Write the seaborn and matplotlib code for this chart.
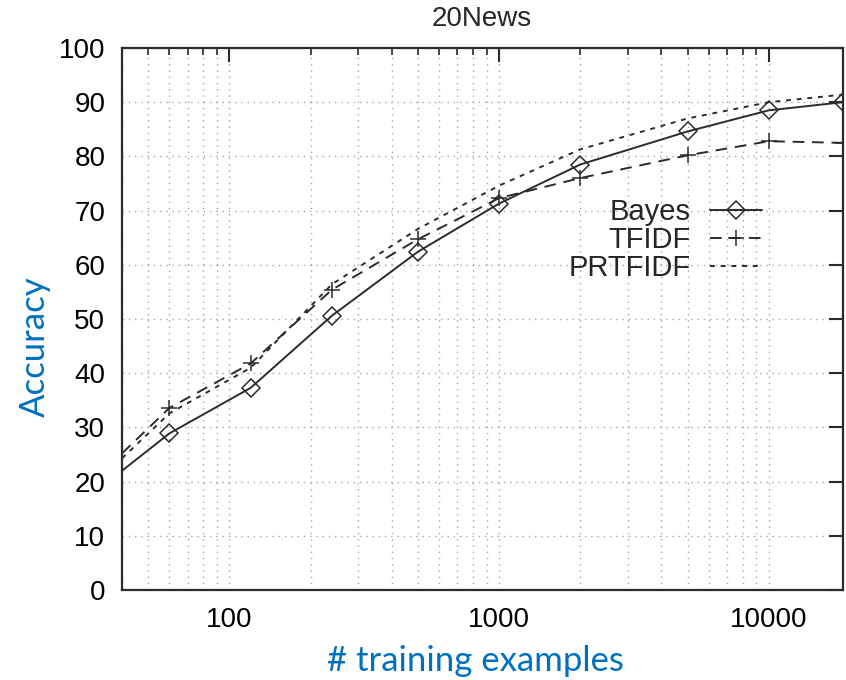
import pandas as pd
import matplotlib
matplotlib.use("Agg")
import matplotlib.pyplot as plt
from matplotlib.ticker import LogLocator, NullFormatter
import seaborn as sns

# training set sizes and accuracies
n_train = [40, 60, 120, 240, 500, 1000, 2000, 5000, 10000, 18846]
bayes = [22.0, 28.9, 37.3, 50.6, 62.4, 71.3, 78.5, 84.6, 88.5, 90.0]
tfidf = [25.2, 33.6, 41.8, 55.4, 64.7, 72.3, 76.0, 80.2, 82.8, 82.5]
prtfidf = [24.3, 32.6, 41.0, 56.4, 66.6, 74.6, 81.3, 87.0, 90.0, 91.4]

x_ticks = [100, 1000, 10000]
x_ticklabels = ["100", "1000", "10000"]
y_ticks = list(range(0, 101, 10))

sns.set_theme(style="white")
plt.rcParams['font.family'] = ['Liberation Sans', 'DejaVu Sans']

fig = plt.figure(figsize=(8.46, 6.8), dpi=100)
ax = fig.add_axes([122 / 846, 90 / 680, 721 / 846, 542 / 680])

ink = "#2b2b2b"
sns.lineplot(x=n_train, y=bayes, ax=ax, color=ink, lw=1.4, linestyle="-",
             marker="D", markersize=9, markerfacecolor="none",
             markeredgecolor=ink, markeredgewidth=1.1,
             markevery=slice(1, None), label="Bayes")
sns.lineplot(x=n_train, y=tfidf, ax=ax, color=ink, lw=1.4, linestyle=(0, (6, 4)),
             marker="+", markersize=12, markeredgecolor=ink, markeredgewidth=1.1,
             markevery=slice(1, None), label="TFIDF")
sns.lineplot(x=n_train, y=prtfidf, ax=ax, color=ink, lw=1.4, linestyle=(0, (2.5, 3)),
             label="PRTFIDF")

ax.set_xscale("log")
ax.set_xlim(40, 18846)
ax.set_ylim(0, 100)
ax.set_xticks(x_ticks)
ax.set_xticklabels(x_ticklabels)
ax.xaxis.set_minor_locator(LogLocator(base=10, subs=range(2, 10)))
ax.xaxis.set_minor_formatter(NullFormatter())
ax.set_yticks(y_ticks)
ax.tick_params(which="both", direction="in", top=True, right=True,
               colors=ink, labelcolor="black", labelsize=20)
ax.tick_params(which="major", length=10, width=1.5)
ax.tick_params(axis="y", which="major", pad=12)
ax.tick_params(axis="x", which="major", pad=12)
ax.tick_params(which="minor", length=5, width=1.2)

ax.grid(which="major", linestyle=(0, (1, 3.5)), color="#a5a5a5", lw=1)
ax.xaxis.grid(which="minor", linestyle=(0, (1, 3.5)), color="#a5a5a5", lw=1)
for s in ax.spines.values():
    s.set_color(ink)
    s.set_linewidth(1.6)

ax.set_xlabel("")
ax.set_ylabel("")
ax.legend(loc="center right", bbox_to_anchor=(762 / 846, 1 - 240 / 680),
          bbox_transform=fig.transFigure, frameon=False, markerfirst=False,
          fontsize=21, handlelength=1.8, handletextpad=0.65, labelspacing=0.0,
          borderpad=0, borderaxespad=0)

fig.text(482 / 846, 1 - 19 / 680, "20News", ha="center", va="center", fontsize=20)
blue = "#0070C0"
fig.text(475 / 846, 1 - 661 / 680, "# training examples", ha="center", va="center",
         fontsize=25, color=blue, family=["Lato", "DejaVu Sans"])
fig.text(35 / 846, 1 - 347 / 680, "Accuracy", ha="center", va="center",
         rotation=90, fontsize=25, color=blue, family=["Lato", "DejaVu Sans"])

fig.savefig("out.png", dpi=100)
